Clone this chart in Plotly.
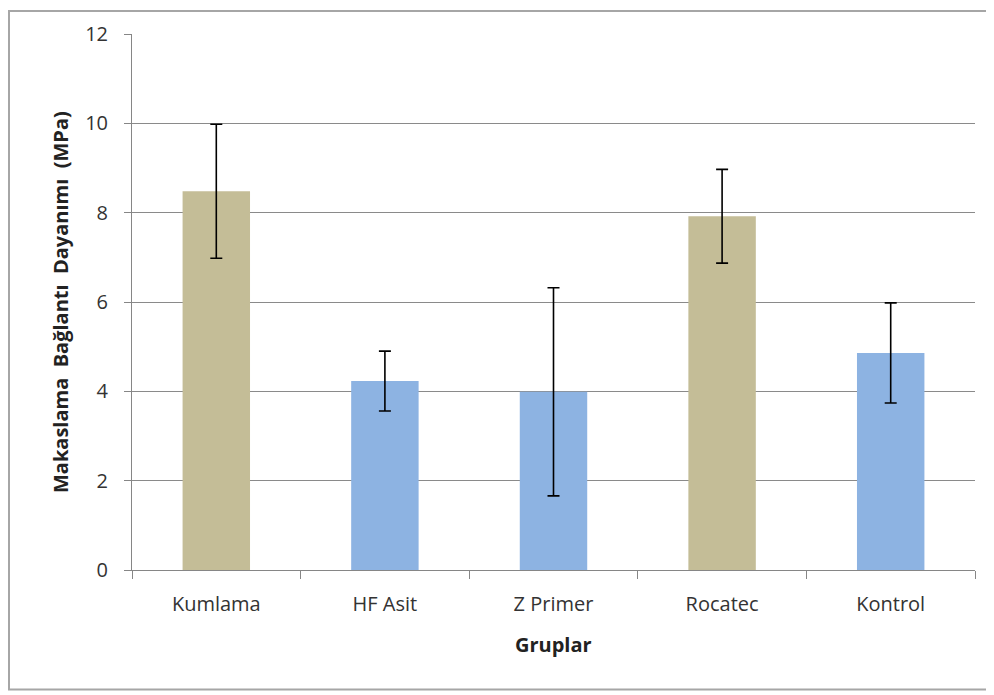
import plotly.graph_objects as go

categories = ["Kumlama", "HF Asit", "Z Primer", "Rocatec", "Kontrol"]
means = [8.48, 4.23, 3.99, 7.92, 4.86]
errors = [1.5, 0.67, 2.33, 1.05, 1.12]
bar_colors = ["#C4BD97", "#8DB3E2", "#8DB3E2", "#C4BD97", "#8DB3E2"]
y_ticks = [0, 2, 4, 6, 8, 10, 12]

font_family = "Open Sans, Liberation Sans, sans-serif"

# The page body has an 8px margin, so figure coordinates = screen - 8
OFF = 8
W, H = 994, 695
L, T = 132 - OFF, 32 - OFF
R = W - (975 - OFF)
B = H - (570 - OFF)
pw = W - L - R
ph = H - T - B


def px_x(x_screen):
    return (x_screen - OFF - L) / pw


def px_y(y_screen):
    return (H - B - (y_screen - OFF)) / ph


fig = go.Figure()
fig.add_trace(go.Bar(
    x=categories,
    y=means,
    marker=dict(color=bar_colors, line=dict(width=0)),
    error_y=dict(type="data", array=errors, visible=True,
                 color="#000000", thickness=1.6, width=6),
    showlegend=False,
))

fig.update_layout(
    width=W, height=H,
    margin=dict(l=L, r=R, t=T, b=B),
    paper_bgcolor="white",
    plot_bgcolor="white",
    bargap=0.6,
    font=dict(family=font_family, size=20, color="#333333"),
    xaxis=dict(
        showgrid=False,
        showline=True, linecolor="#868686", linewidth=1,
        ticks="outside", ticklen=8, tickcolor="#868686",
        tickson="boundaries",
        tickfont=dict(size=20, color="#333333"),
        ticklabelstandoff=16,
    ),
    yaxis=dict(
        range=[0, 12],
        tickvals=y_ticks,
        showgrid=True, gridcolor="#8A8A8A", gridwidth=1,
        showline=True, linecolor="#868686", linewidth=1,
        ticks="outside", ticklen=7, tickcolor="#868686",
        zeroline=False,
        tickfont=dict(size=20, color="#333333"),
        ticklabelstandoff=12,
    ),
    shapes=[dict(
        type="rect", xref="paper", yref="paper",
        x0=px_x(9), x1=px_x(990), y0=px_y(690), y1=px_y(9),
        line=dict(color="#A6A6A6", width=2), fillcolor="rgba(0,0,0,0)",
        layer="below",
    )],
    annotations=[
        dict(text="<b>Makaslama  Bağlantı  Dayanımı  (MPa)</b>",
             xref="paper", yref="paper", x=px_x(60), y=0.5,
             xanchor="center", yanchor="middle",
             textangle=-90, showarrow=False,
             font=dict(size=20, color="#222222")),
        dict(text="<b>Gruplar</b>",
             xref="paper", yref="paper", x=0.5, y=px_y(645),
             xanchor="center", yanchor="middle",
             showarrow=False,
             font=dict(size=20, color="#222222")),
    ],
)

fig.write_html("out.html")
